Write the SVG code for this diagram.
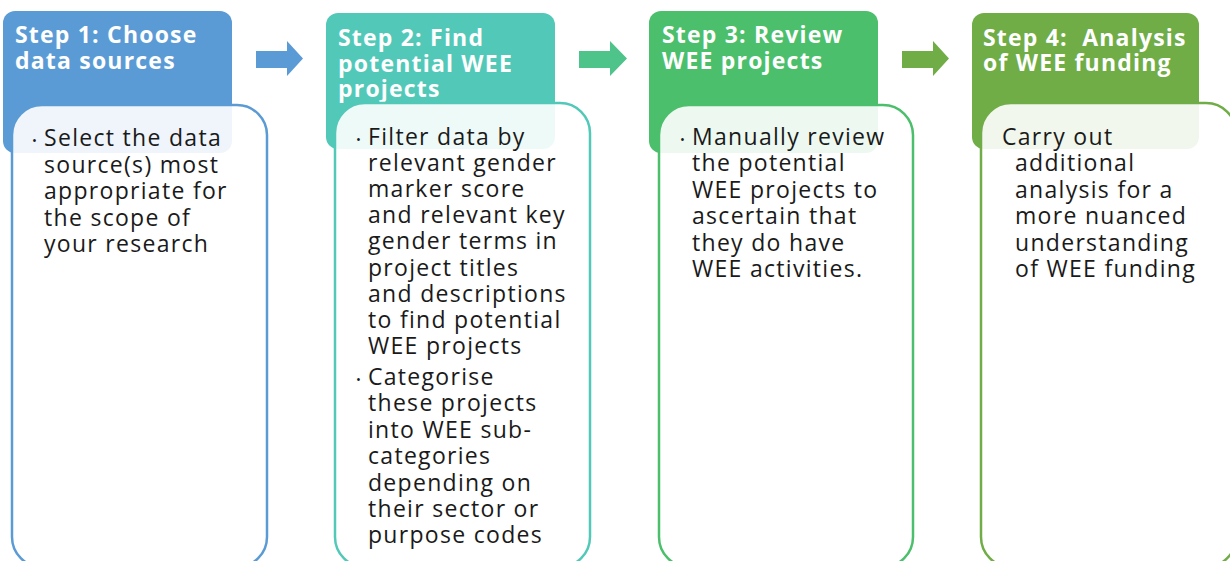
<svg xmlns="http://www.w3.org/2000/svg" width="1230" height="561" viewBox="0 0 1230 561">
  <style>
    .hdr { font-family: "Open Sans", "DejaVu Sans", sans-serif; font-weight: 700; font-size: 23px; letter-spacing: 1.2px; fill: #ffffff; }
    .body { font-family: "Open Sans", "DejaVu Sans", sans-serif; font-size: 23px; letter-spacing: 1.3px; fill: #1a1a1a; }
    .bul { font-family: "Open Sans", "DejaVu Sans", sans-serif; font-size: 13px; fill: #1a1a1a; }
    .card { fill: #ffffff; fill-opacity: 0.9; stroke-width: 2.5; }
  </style>
  <rect width="1230" height="561" fill="#ffffff"/>

  <g id="connectors">
    <polygon points="256,51 287,51 287,41 303,58.5 287,76 287,68 256,68" fill="#5B9BD5"/>
    <polygon points="579,51 610,51 610,41 627,58.5 610,76 610,68 579,68" fill="#4FC48A"/>
    <polygon points="902,51 933,51 933,41 949,58.5 933,76 933,68 902,68" fill="#70AD47"/>
  </g>

  <g id="step1">
    <rect x="3" y="11" width="229" height="142" rx="12" fill="#5B9BD5"/>
    <text class="hdr" x="15" y="43">Step 1: Choose</text>
    <text class="hdr" x="15" y="69">data sources</text>
    <rect class="card" x="12" y="105" width="255" height="462" rx="30" stroke="#5B9BD5"/>
    <text class="bul" x="32" y="145">•</text>
    <text class="body" x="44">
      <tspan x="44" y="146">Select the data</tspan>
      <tspan x="44" y="172.5">source(s) most</tspan>
      <tspan x="44" y="199">appropriate for</tspan>
      <tspan x="44" y="225.5">the scope of</tspan>
      <tspan x="44" y="252">your research</tspan>
    </text>
  </g>

  <g id="step2">
    <rect x="326" y="13" width="229" height="136" rx="12" fill="#52C9B8"/>
    <text class="hdr" x="338" y="46">Step 2: Find</text>
    <text class="hdr" x="338" y="72">potential WEE</text>
    <text class="hdr" x="338" y="97">projects</text>
    <rect class="card" x="335" y="103" width="255" height="464" rx="30" stroke="#52C9B8"/>
    <text class="bul" x="356" y="144">•</text>
    <text class="body">
      <tspan x="368" y="145">Filter data by</tspan>
      <tspan x="368" y="171.1">relevant gender</tspan>
      <tspan x="368" y="197.2">marker score</tspan>
      <tspan x="368" y="223.3">and relevant key</tspan>
      <tspan x="368" y="249.4">gender terms in</tspan>
      <tspan x="368" y="275.5">project titles</tspan>
      <tspan x="368" y="301.6">and descriptions</tspan>
      <tspan x="368" y="327.7">to find potential</tspan>
      <tspan x="368" y="353.8">WEE projects</tspan>
    </text>
    <text class="bul" x="356" y="384">•</text>
    <text class="body">
      <tspan x="368" y="385">Categorise</tspan>
      <tspan x="368" y="411.4">these projects</tspan>
      <tspan x="368" y="437.8">into WEE sub-</tspan>
      <tspan x="368" y="464.2">categories</tspan>
      <tspan x="368" y="490.6">depending on</tspan>
      <tspan x="368" y="517">their sector or</tspan>
      <tspan x="368" y="543.4">purpose codes</tspan>
    </text>
  </g>

  <g id="step3">
    <rect x="649" y="11" width="229" height="142" rx="12" fill="#4BBF6B"/>
    <text class="hdr" x="662" y="43">Step 3: Review</text>
    <text class="hdr" x="662" y="69">WEE projects</text>
    <rect class="card" x="659" y="105" width="254" height="462" rx="30" stroke="#4BBF6B"/>
    <text class="bul" x="680" y="144">•</text>
    <text class="body">
      <tspan x="692" y="145">Manually review</tspan>
      <tspan x="692" y="171.4">the potential</tspan>
      <tspan x="692" y="197.8">WEE projects to</tspan>
      <tspan x="692" y="224.2">ascertain that</tspan>
      <tspan x="692" y="250.6">they do have</tspan>
      <tspan x="692" y="277">WEE activities.</tspan>
    </text>
  </g>

  <g id="step4">
    <rect x="972" y="13" width="227" height="136" rx="12" fill="#70AD47"/>
    <text class="hdr" x="983" y="46" xml:space="preserve">Step 4:  Analysis</text>
    <text class="hdr" x="983" y="71">of WEE funding</text>
    <rect class="card" x="981" y="103" width="255" height="464" rx="30" stroke="#70AD47"/>
    <text class="body">
      <tspan x="1002" y="145">Carry out</tspan>
      <tspan x="1015" y="171.4">additional</tspan>
      <tspan x="1015" y="197.8">analysis for a</tspan>
      <tspan x="1015" y="224.2">more nuanced</tspan>
      <tspan x="1015" y="250.6">understanding</tspan>
      <tspan x="1015" y="277">of WEE funding</tspan>
    </text>
  </g>
</svg>
